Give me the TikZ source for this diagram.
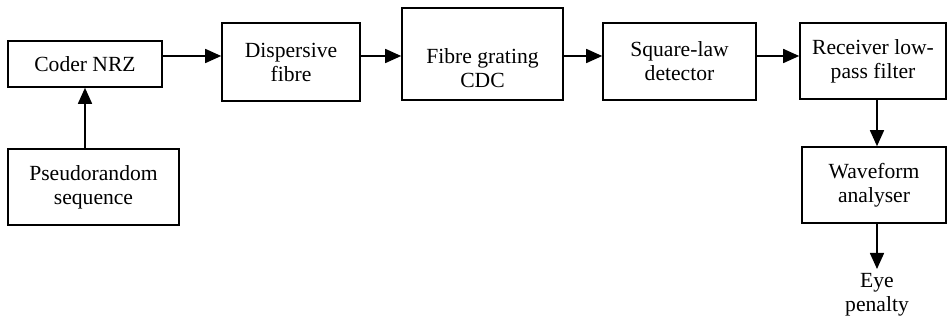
\documentclass[tikz,border=0pt]{standalone}
\usepackage{fontspec}
\setmainfont{Liberation Serif}
\usepackage{tikz}
\usetikzlibrary{arrows.meta,positioning,calc}

\begin{document}
\begin{tikzpicture}[x=0.5pt, y=-0.5pt,
                    blk/.style={draw, line width=0.8pt, align=center, font=\fontsize{10.8}{12}\selectfont, inner sep=0pt},
                    arr/.style={line width=0.8pt, -{Triangle[length=8pt, width=7pt]}}]
                    \useasboundingbox (0,0) rectangle (948,325);
                    \coordinate (row) at (0,56);
                    \node[blk, minimum width=77pt, minimum height=23pt] (Coder) at (85,64) {Coder NRZ};
                    \node[blk, minimum width=69pt, minimum height=39pt] (Disp) at (291,62) {Dispersive\\fibre};
                    \node[blk, minimum width=80.5pt, minimum height=46pt, text height=34pt] (Grating) at (482.5,54) {Fibre grating\\CDC};
                    \node[blk, minimum width=76.5pt, minimum height=38.5pt] (Square) at (679.5,61.5) {Square-law\\detector};
                    \node[blk, minimum width=73pt, minimum height=38pt] (Recv) at (873,61) {Receiver low-\\pass filter};
                    \node[blk, minimum width=72pt, minimum height=38pt] (Wave) at (874,185) {Waveform\\analyser};
                    \node[blk, minimum width=85.5pt, minimum height=38pt] (Pseudo) at (93.5,187) {Pseudorandom\\sequence};
                    \node[blk, draw=none, anchor=north, inner sep=2pt] (Eye) at (877,269) {Eye\\penalty};
                    \draw[arr] (Coder.east |- row) -- (Disp.west |- row);
                    \draw[arr] (Disp.east |- row) -- (Grating.west |- row);
                    \draw[arr] (Grating.east |- row) -- (Square.west |- row);
                    \draw[arr] (Square.east |- row) -- (Recv.west |- row);
                    \draw[arr] (Recv.south -| Eye.north) -- (Wave.north -| Eye.north);
                    \draw[arr] (Wave.south -| Eye.north) -- (Eye.north);
                    \draw[arr] (Pseudo.north -| Coder.south) -- (Coder.south);
                \end{tikzpicture}
\end{document}
